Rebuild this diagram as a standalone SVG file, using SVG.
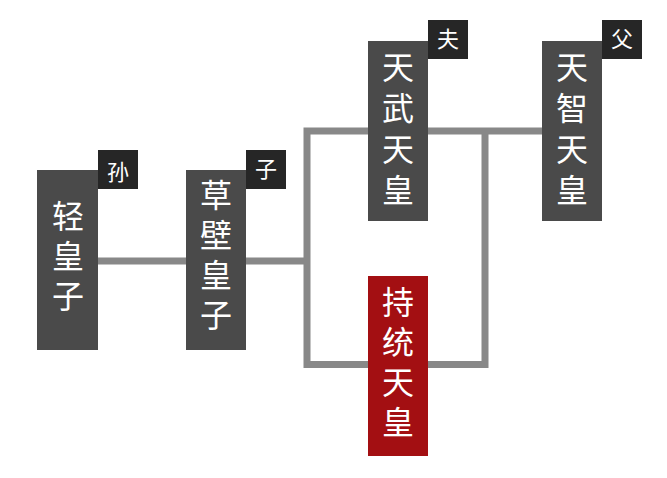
<svg xmlns="http://www.w3.org/2000/svg" width="667" height="478" viewBox="0 0 667 478">
<style>
.node{fill:#4a4a4a}
.red{fill:#a30f12}
.tag{fill:#262626}
.t{font-family:"Noto Sans CJK SC","Noto Sans CJK JP",sans-serif;font-size:32px;fill:#ffffff;writing-mode:vertical-rl;letter-spacing:8px}
.s{font-family:"Noto Sans CJK SC","Noto Sans CJK JP",sans-serif;font-size:22px;fill:#ffffff;text-anchor:middle}
.c{fill:none;stroke:#888888;stroke-width:7}
</style>
<rect width="667" height="478" fill="#ffffff"/>
<g id="connectors">
<line class="c" x1="98" y1="261" x2="186" y2="261"/>
<line class="c" x1="246" y1="261" x2="307" y2="261"/>
<polyline class="c" points="368,131 307,131 307,364.5 368,364.5"/>
<line class="c" x1="428" y1="131" x2="542" y2="131"/>
<polyline class="c" points="428,364.5 485,364.5 485,131"/>
</g>
<g id="qing">
<rect class="node" x="37" y="170" width="61" height="180"/>
<text class="t" x="68" y="200">轻皇子</text>
<rect class="tag" x="98" y="150" width="40" height="39"/>
<text class="s" x="118" y="180">孙</text>
</g>
<g id="kusakabe">
<rect class="node" x="186" y="170" width="60" height="180"/>
<text class="t" x="216" y="179">草壁皇子</text>
<rect class="tag" x="246" y="150" width="40" height="39"/>
<text class="s" x="266" y="177">子</text>
</g>
<g id="tenmu">
<rect class="node" x="368" y="41" width="60" height="180"/>
<text class="t" x="398" y="51" style="letter-spacing:9px">天武天皇</text>
<rect class="tag" x="428" y="20" width="40" height="39"/>
<text class="s" x="448" y="47">夫</text>
</g>
<g id="jito">
<rect class="red" x="368" y="276" width="60" height="180"/>
<text class="t" x="398" y="286">持统天皇</text>
</g>
<g id="tenji">
<rect class="node" x="542" y="41" width="60" height="180"/>
<text class="t" x="572" y="51" style="letter-spacing:9px">天智天皇</text>
<rect class="tag" x="602" y="20" width="40" height="39"/>
<text class="s" x="622" y="47">父</text>
</g>
</svg>
